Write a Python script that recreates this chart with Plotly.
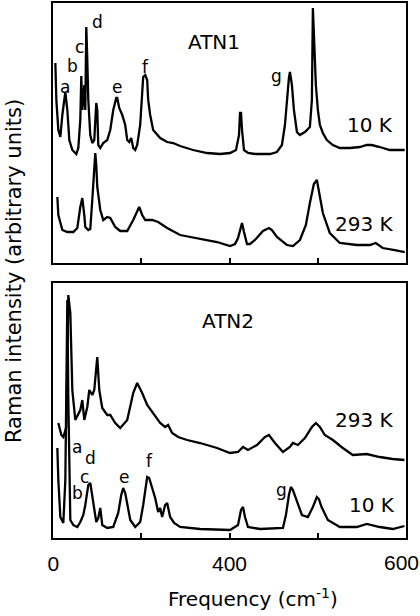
import plotly.graph_objects as go

# ---------------- data ----------------
# frequency axis is in the figure's own linear scale (0..600), tick labels as printed
label_vals = [0, 300]
label_text = ["0", "400"]
edge_label = "600"
minor_step = 150

# ATN1, 10 K
atn1_10k_freq = [3.4, 5.1, 8.5, 11.9, 15.3, 20.4, 23.8, 27.2, 32.3, 39.1, 42.5, 45.9, 47.6, 49.3, 51.0, 52.7,
                 54.4, 56.1, 57.8, 59.5, 62.9, 66.3, 69.7, 73.1, 74.8, 76.5, 79.9, 85.0, 91.8, 96.9, 102.0,
                 107.1, 108.8, 112.2, 117.3, 122.4, 125.8, 129.2, 132.6, 136.0, 139.4, 142.8, 147.9, 151.3,
                 153.0, 156.4, 159.8, 161.5, 164.9, 170.0, 176.8, 181.9, 193.8, 204.0, 215.9, 238.0, 261.8,
                 283.9, 300.9, 311.1, 316.2, 317.9, 319.6, 321.3, 324.7, 331.5, 343.4, 368.9, 380.8, 389.3,
                 394.4, 397.8, 401.2, 402.9, 406.3, 409.7, 414.8, 419.9, 428.4, 436.9, 440.3, 442.0, 443.7,
                 447.1, 450.5, 453.9, 459.0, 465.8, 476.0, 487.9, 504.9, 521.9, 533.8, 542.3, 555.9, 572.9,
                 598.4]
atn1_10k_int = [200, 163, 133, 126, 148, 171, 153, 123, 113, 109, 115, 143, 187, 153, 163, 178,
                153, 236, 203, 163, 128, 120, 123, 160, 153, 118, 115, 120, 123, 133, 153,
                165, 165, 155, 148, 138, 123, 121, 125, 115, 113, 118, 138, 168,
                186, 188, 183, 163, 148, 133, 128, 125, 121, 120, 117, 113, 110,
                109, 110, 113, 128, 150, 150, 133, 113, 110, 109, 109, 111, 118,
                138, 163, 185, 191, 178, 153, 131, 128, 131, 136, 163, 255, 223,
                178, 153, 138, 130, 123, 118, 115, 115, 116, 118, 118, 116, 113,
                113]

# ATN1, 293 K
atn1_293k_freq = [6.8, 8.5, 15.3, 23.8, 34.0, 40.8, 45.9, 49.3, 52.7, 54.4, 59.5, 62.9, 66.3, 71.4, 73.1,
                  74.8, 79.9, 85.0, 91.8, 96.9, 105.4, 113.9, 125.8, 136.0, 146.2, 151.3, 156.4, 168.3,
                  178.5, 193.8, 215.9, 249.9, 278.8, 300.9, 309.4, 314.5, 319.6, 321.3, 324.7, 329.8,
                  334.9, 343.4, 357.0, 367.2, 372.3, 380.8, 397.8, 408.0, 419.9, 430.1, 436.9, 443.7,
                  448.8, 453.9, 459.0, 470.9, 487.9, 516.8, 538.9, 549.1, 561.0, 581.4, 598.4]
atn1_293k_int = [66, 48, 33, 31, 31, 35, 56, 65, 48, 36, 33, 34, 63, 110, 98,
                 76, 53, 43, 46, 45, 36, 32, 32, 43, 56, 48, 43, 43,
                 41, 35, 28, 24, 21, 17, 19, 25, 35, 40, 31, 19,
                 19, 23, 32, 35, 33, 26, 18, 17, 23, 38, 60, 79,
                 83, 68, 50, 30, 20, 18, 18, 20, 15, 13, 11]

# ATN2, 293 K
atn2_293k_freq = [8.5, 13.6, 17.0, 22.1, 25.5, 28.9, 32.3, 37.4, 45.9, 49.3, 52.7, 57.8, 61.2, 66.3, 69.7,
                  74.8, 78.2, 83.3, 91.8, 96.9, 105.4, 113.9, 125.8, 136.0, 142.8, 151.3, 159.8, 168.3,
                  173.4, 181.9, 190.4, 195.5, 202.3, 212.5, 227.8, 249.9, 278.8, 300.9, 314.5, 323.0,
                  331.5, 346.8, 360.4, 367.2, 377.4, 391.0, 402.9, 408.0, 416.5, 428.4, 440.3, 447.1,
                  453.9, 462.4, 476.0, 493.0, 510.0, 533.8, 555.9, 578.0, 598.0]
atn2_293k_int = [115, 103, 101, 111, 243, 225, 148, 118, 128, 138, 118, 131, 148, 143, 148,
                 181, 148, 130, 123, 123, 115, 110, 118, 145, 155, 145, 133, 126,
                 123, 115, 111, 113, 105, 101, 98, 95, 90, 85, 86, 91,
                 88, 93, 101, 103, 95, 86, 91, 95, 93, 100, 111, 115,
                 111, 103, 98, 90, 83, 84, 81, 79, 78]

# ATN2, 10 K
atn2_10k_freq = [6.8, 8.5, 11.9, 17.0, 20.4, 22.1, 23.8, 25.5, 27.2, 28.9, 34.0, 40.8, 45.9, 51.0, 54.4,
                 57.8, 59.5, 62.9, 64.6, 68.0, 73.1, 76.5, 79.9, 83.3, 91.8, 102.0, 110.5, 115.6, 119.0,
                 122.4, 125.8, 131.0, 139.4, 147.9, 153.0, 156.4, 159.8, 163.2, 168.3, 173.4, 178.5,
                 181.9, 185.3, 190.4, 193.8, 198.9, 205.7, 215.9, 249.9, 300.9, 314.5, 319.6, 323.0,
                 326.4, 331.5, 351.9, 391.0, 396.1, 401.2, 404.6, 408.0, 414.8, 423.3, 433.5, 442.0,
                 448.8, 452.2, 456.8, 467.5, 487.9, 516.8, 533.8, 555.9, 578.0, 598.0]
atn2_10k_int = [90, 58, 21, 15, 58, 158, 238, 138, 48, 18, 13, 11, 16, 23, 33,
                48, 53, 55, 48, 33, 16, 20, 30, 13, 10, 11, 25, 43, 50,
                45, 33, 18, 11, 16, 33, 48, 61, 60, 50, 40, 26,
                30, 21, 33, 35, 21, 15, 11, 9, 8, 13, 28, 31,
                21, 11, 9, 10, 23, 43, 51, 48, 36, 23, 21, 31,
                41, 39, 31, 18, 11, 11, 14, 11, 9, 12]

# peak labels: (label, freq, intensity)
atn1_peaks = [("a", 19.5, 176), ("b", 32.3, 197), ("c", 45.0, 216), ("d", 74.8, 241),
              ("e", 108.8, 176), ("f", 156.4, 196), ("g", 380.8, 187)]
atn2_peaks = [("a", 40.8, 91), ("b", 40.8, 45), ("c", 53.5, 61), ("d", 62.9, 80),
              ("e", 120.7, 61), ("f", 163.2, 77), ("g", 389.3, 48)]

# ---------------- figure ----------------
FONT = "DejaVu Sans"
TICKFONT = dict(family="Liberation Sans", size=21, color="black")
line = dict(color="black", width=2.3)

fig = go.Figure()
fig.add_trace(go.Scatter(x=atn1_10k_freq, y=atn1_10k_int, mode="lines", line=line, xaxis="x", yaxis="y"))
fig.add_trace(go.Scatter(x=atn1_293k_freq, y=atn1_293k_int, mode="lines", line=line, xaxis="x", yaxis="y"))
fig.add_trace(go.Scatter(x=atn2_293k_freq, y=atn2_293k_int, mode="lines", line=line, xaxis="x2", yaxis="y2"))
fig.add_trace(go.Scatter(x=atn2_10k_freq, y=atn2_10k_int, mode="lines", line=line, xaxis="x2", yaxis="y2"))

axis_common = dict(showline=True, linecolor="black", linewidth=2, mirror=True,
                   showgrid=False, zeroline=False, automargin=False)
xrange = [-0.6, 600.6]
minor = dict(tick0=0, dtick=minor_step, ticks="inside", ticklen=5, tickwidth=1.5, tickcolor="black", showgrid=False)

fig.update_layout(
    width=420, height=616,
    margin=dict(l=53, r=14, t=3, b=78, autoexpand=False),
    paper_bgcolor="white", plot_bgcolor="white",
    showlegend=False,
    font=dict(family=FONT, color="black"),
    xaxis=dict(domain=[0, 1], range=xrange, anchor="y", tickvals=label_vals, ticks="inside",
               ticklen=5, tickwidth=1.5, tickcolor="black", showticklabels=False, minor=minor, **axis_common),
    yaxis=dict(domain=[0.514, 1], range=[0, 260], anchor="x", showticklabels=False, ticks="", **axis_common),
    xaxis2=dict(domain=[0, 1], range=xrange, anchor="y2", tickvals=label_vals, ticktext=label_text,
                ticks="inside", ticklen=5, tickwidth=1.5, tickcolor="black", minor=minor,
                tickfont=TICKFONT, ticklabelstandoff=6, **axis_common),
    yaxis2=dict(domain=[0, 0.4766], range=[0, 255], anchor="x2", showticklabels=False, ticks="", **axis_common),
)

ann = []
def txt(text, x, y, xref, yref, size=20, family=FONT, **kw):
    ann.append(dict(text=text, x=x, y=y, xref=xref, yref=yref, showarrow=False,
                    font=dict(family=family, size=size, color="black"), **kw))

txt("ATN1", 273.7, 221, "x", "y")
txt("10 K", 539, 138, "x", "y")
txt("293 K", 530, 39, "x", "y")
txt("ATN2", 297.5, 217, "x2", "y2")
txt("293 K", 530, 118, "x2", "y2")
txt("10 K", 542, 33, "x2", "y2")
for lab, fx, fy in atn1_peaks:
    txt(lab, fx, fy, "x", "y", size=17)
for lab, fx, fy in atn2_peaks:
    txt(lab, fx, fy, "x2", "y2", size=17)

# last tick label sits at the right edge in the original; drawn shifted inward so it is not clipped
txt(edge_label, 0.986, -0.0467, "paper", "paper", size=TICKFONT["size"], family=TICKFONT["family"],
    xanchor="center", yanchor="middle")

txt("Raman intensity (arbitrary units)", -0.1105, 0.499, "paper", "paper", size=21, textangle=-90,
    xanchor="center", yanchor="middle")
txt("Frequency (cm<sup>-1</sup>)", 0.567, -0.112, "paper", "paper", size=20,
    xanchor="center", yanchor="middle")

fig.update_layout(annotations=ann)
fig.write_html("out.html")
